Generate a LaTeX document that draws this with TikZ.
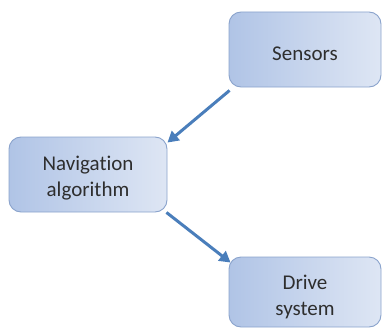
\documentclass[tikz,border=0pt]{standalone}
\usepackage{fontspec}
\setmainfont[Ligatures=NoCommon]{Carlito}
\usetikzlibrary{arrows.meta}
\definecolor{boxL}{HTML}{B0C4E6}
\definecolor{boxR}{HTML}{DEE6F4}
\definecolor{boxEdge}{HTML}{8AA3CC}
\definecolor{txt}{HTML}{2E2E2E}
\definecolor{arr}{HTML}{4A7EBB}
\begin{document}
\begin{tikzpicture}[x=1pt,y=-1pt,
  blk/.style={draw=boxEdge, line width=0.9pt, rounded corners=12pt,
    left color=boxL, right color=boxR, inner sep=0pt},
  lbl/.style={text=txt, align=center, inner sep=0pt,
    font=\fontsize{21}{26}\selectfont},
  arrw/.style={draw=arr, line width=3pt, -{Triangle[length=11pt,width=12pt]}}]
\useasboundingbox (0,0) rectangle (382,329);
\node[blk, minimum width=152pt, minimum height=75pt] (sens) at (305,49.5) {};
\node[blk, minimum width=158pt, minimum height=75pt] (nav) at (88,174.5) {};
\node[blk, minimum width=152pt, minimum height=70pt] (drv) at (305,292) {};
\node[lbl, yshift=-4.5pt] (sensT) at (sens.center) {Sensors};
\node[lbl, yshift=-4pt] (navT) at (nav.center) {Navigation\\algorithm};
\node[lbl, yshift=-5pt] (drvT) at (drv.center) {Drive\\system};
\draw[arrw] ([shift={(1,3)}]sens.south west) -- ([shift={(0,6)}]nav.north east);
\draw[arrw] ([shift={(-1,0)}]nav.south east) -- ([shift={(2,6)}]drv.north west);
\end{tikzpicture}
\end{document}
